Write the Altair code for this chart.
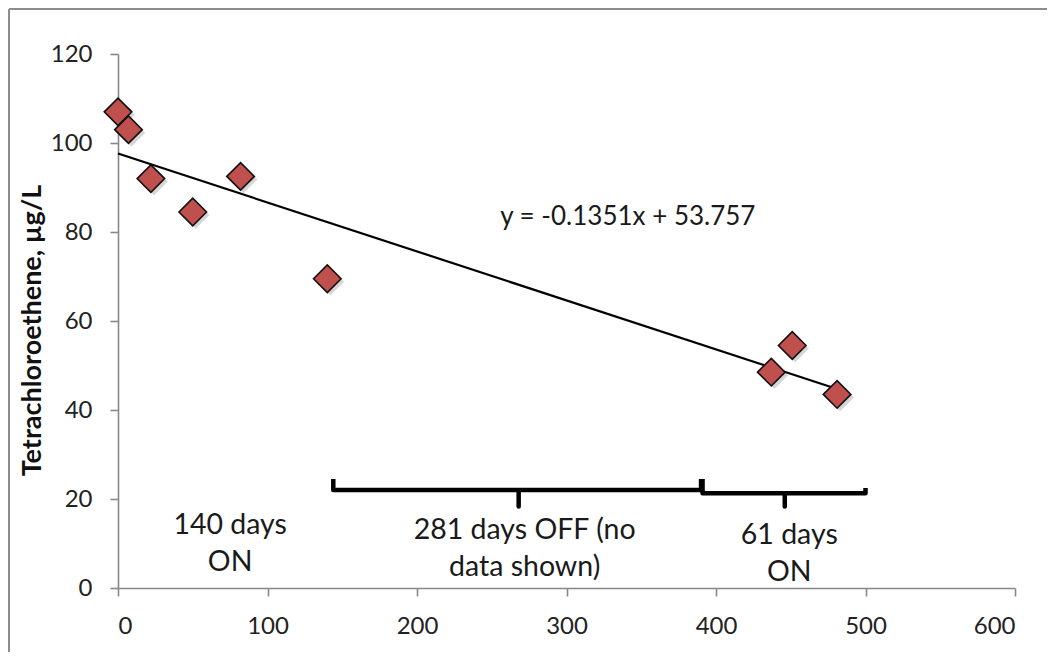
import altair as alt
import pandas as pd

# Measured data (days, µg/L)
days = [0, 7, 22, 50, 82, 140, 437, 451, 481]
conc = [107, 103, 92, 84.5, 92.5, 69.5, 48.5, 54.5, 43.5]

x_ticks = [0, 100, 200, 300, 400, 500, 600]
y_ticks = [0, 20, 40, 60, 80, 100, 120]

# Bracket polylines (annotation shapes in data units)
br_id = [1, 1, 1, 1, 1, 1, 1, 2, 2, 2, 2, 2, 2, 2]
br_x = [144, 144, 268, 268, 268, 390, 390, 391, 391, 446, 446, 446, 500, 500]
br_y = [24.5, 22, 22, 18.3, 22, 22, 24.5, 24.5, 21.3, 21.3, 18.3, 21.3, 21.3, 22.5]

# Annotation text
ann_text = ["140 days", "ON", "281 days OFF (no", "data shown)", "61 days", "ON"]
ann_x = [75, 75, 272, 272, 449, 449]
ann_y = [14.2, 5.8, 13.0, 4.7, 11.9, 3.6]

eq_text = ["y = -0.1351x + 53.757"]
eq_x = [341]
eq_y = [83.4]

FONT = "Lato"

pts = pd.DataFrame({"day": days, "conc": conc})
br = pd.DataFrame({"id": br_id, "x": br_x, "y": br_y, "order": list(range(len(br_x)))})
ann = pd.DataFrame({"x": ann_x, "y": ann_y, "t": ann_text})
eq = pd.DataFrame({"x": eq_x, "y": eq_y, "t": eq_text})

xs = alt.Scale(domain=[0, 600], nice=False)
ys = alt.Scale(domain=[0, 120], nice=False)

X = alt.X("day:Q", scale=xs, axis=alt.Axis(values=x_ticks, title=None, grid=False))
Y = alt.Y("conc:Q", scale=ys, axis=alt.Axis(values=y_ticks, title="Tetrachloroethene, µg/L",
                                             grid=False, titleY=276))

base = alt.Chart(pts)

shadow = base.mark_point(shape="diamond", filled=True, size=760, color="#000000",
                         opacity=0.16, xOffset=3, yOffset=3).encode(x=X, y=Y)
points = base.mark_point(shape="diamond", filled=True, size=760, fill="#C0504D",
                         stroke="#111111", strokeWidth=1.6, opacity=1).encode(x=X, y=Y)

trend = base.transform_regression("day", "conc", extent=[0, 481]).mark_line(
    color="#000000", strokeWidth=2.2).encode(x="day:Q", y="conc:Q")

brackets = alt.Chart(br).mark_line(color="#000000", strokeWidth=4.5,
                                   strokeJoin="round", strokeCap="butt").encode(
    x=alt.X("x:Q", scale=xs), y=alt.Y("y:Q", scale=ys), detail="id:N", order="order:Q")

ann_layer = alt.Chart(ann).mark_text(font=FONT, fontSize=28.5, color="#1a1a1a",
                                     align="center", baseline="middle").encode(
    x=alt.X("x:Q", scale=xs), y=alt.Y("y:Q", scale=ys), text="t:N")

eq_layer = alt.Chart(eq).mark_text(font=FONT, fontSize=26, color="#1a1a1a",
                                   align="center", baseline="middle").encode(
    x=alt.X("x:Q", scale=xs), y=alt.Y("y:Q", scale=ys), text="t:N")

border_left = alt.Chart(pts).mark_rule(color="#8c8c8c", strokeWidth=2).encode(
    x=alt.value(-109), y=alt.value(-45), y2=alt.value(620))
border_top = alt.Chart(pts).mark_rule(color="#8c8c8c", strokeWidth=2).encode(
    x=alt.value(-109), x2=alt.value(960), y=alt.value(-45))

chart = alt.layer(border_left, border_top, trend, brackets, shadow, points,
                  ann_layer, eq_layer).properties(
    width=897, height=534,
    padding={"left": 110, "top": 46, "right": 32, "bottom": 64},
    autosize=alt.AutoSizeParams(type="none"),
).configure_view(stroke=None).configure_axis(
    domainColor="#888888", domainWidth=1.6, tickColor="#888888", tickWidth=1.6,
    tickSize=8, labelFont=FONT, labelFontSize=24, labelColor="#222222",
    labelPadding=18, titleFont=FONT, titleFontSize=27, titleFontWeight="bold",
    titleColor="#111111",
).configure_axisY(titlePadding=4)

chart.save("out.html", embed_options={"renderer": "svg", "actions": False})
